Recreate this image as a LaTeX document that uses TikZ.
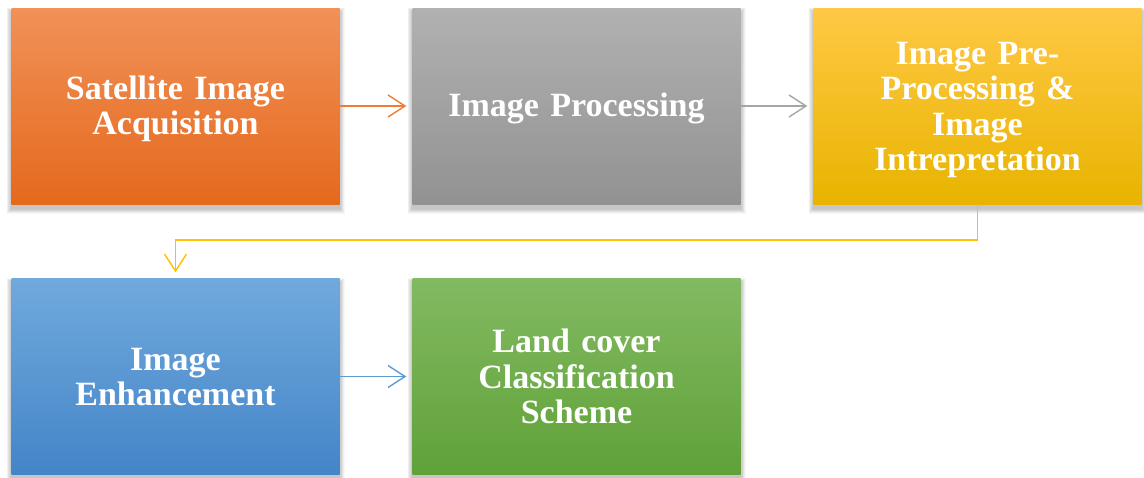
\documentclass[tikz,border=0pt]{standalone}
\usepackage{fontspec}
\setmainfont{Liberation Serif}
\usetikzlibrary{arrows.meta,backgrounds}

\definecolor{orTop}{HTML}{F19158}
\definecolor{orBot}{HTML}{E5691C}
\definecolor{grTop}{HTML}{B1B1B1}
\definecolor{grBot}{HTML}{929292}
\definecolor{yeTop}{HTML}{FFC845}
\definecolor{yeBot}{HTML}{E8B400}
\definecolor{blTop}{HTML}{70A9DD}
\definecolor{blBot}{HTML}{4485C8}
\definecolor{gnTop}{HTML}{82BA62}
\definecolor{gnBot}{HTML}{60A138}
\definecolor{orLine}{HTML}{ED7D31}
\definecolor{grLine}{HTML}{A5A5A5}
\definecolor{yeLine}{HTML}{FFC000}
\definecolor{blLine}{HTML}{5B9BD5}

\tikzset{
  stagebox/.style={minimum width=328pt, minimum height=196pt, inner sep=0pt},
  stagetext/.style={inner sep=0pt, text width=320pt, align=center, text=white,
    font=\fontsize{34}{35.5}\selectfont\bfseries},
  flow/.style={line width=1.5pt, -{Straight Barb[length=17pt,width=22pt,line width=1.4pt]}},
}

\begin{document}
\begin{tikzpicture}[x=1pt,y=-1pt]
\useasboundingbox (0,0) rectangle (1144,477);

% the five stage boxes
\node[stagebox, top color=orTop, bottom color=orBot] (a) at (175.5,106) {};
\node[stagebox, top color=grTop, bottom color=grBot] (b) at (576.5,106) {};
\node[stagebox, top color=yeTop, bottom color=yeBot] (c) at (977.5,106) {};
\node[stagebox, top color=blTop, bottom color=blBot] (d) at (175.5,376.5) {};
\node[stagebox, top color=gnTop, bottom color=gnBot] (e) at (576.5,376.5) {};

% their captions
\node[stagetext] (aT) at ([yshift=-3pt]a.center) {Satellite Image\\Acquisition};
\node[stagetext] (bT) at ([yshift=-2pt]b.center) {Image Processing};
\node[stagetext] (cT) at ([yshift=-4pt]c.center) {Image Pre-\\Processing \&\\Image\\Intrepretation};
\node[stagetext] (dT) at ([yshift=-0.5pt]d.center) {Image\\Enhancement};
\node[stagetext] (eT) at (e.center) {Land cover\\Classification\\Scheme};

% soft shadows falling below the boxes
\begin{scope}[on background layer]
  \foreach \n in {a,b,c,d,e}{
    \foreach \r in {1,...,8}{
      \fill[black, opacity=0.03]
        ([xshift=-0.6*\r pt, yshift=-4.5pt+0.6*\r pt]\n.north west)
        rectangle ([xshift=0.6*\r pt, yshift=-4.5pt-0.6*\r pt]\n.south east);
    }
  }
\end{scope}

% connectors
\draw[flow, orLine] (a.east) -- ([xshift=-6pt]b.west);
\draw[flow, grLine] (b.east) -- ([xshift=-6pt]c.west);
\draw[flow, yeLine] (c.south) -- ++(0,36) -| ([yshift=6pt]d.north);
\draw[flow, blLine] (d.east) -- ([xshift=-6pt]e.west);
\end{tikzpicture}
\end{document}
